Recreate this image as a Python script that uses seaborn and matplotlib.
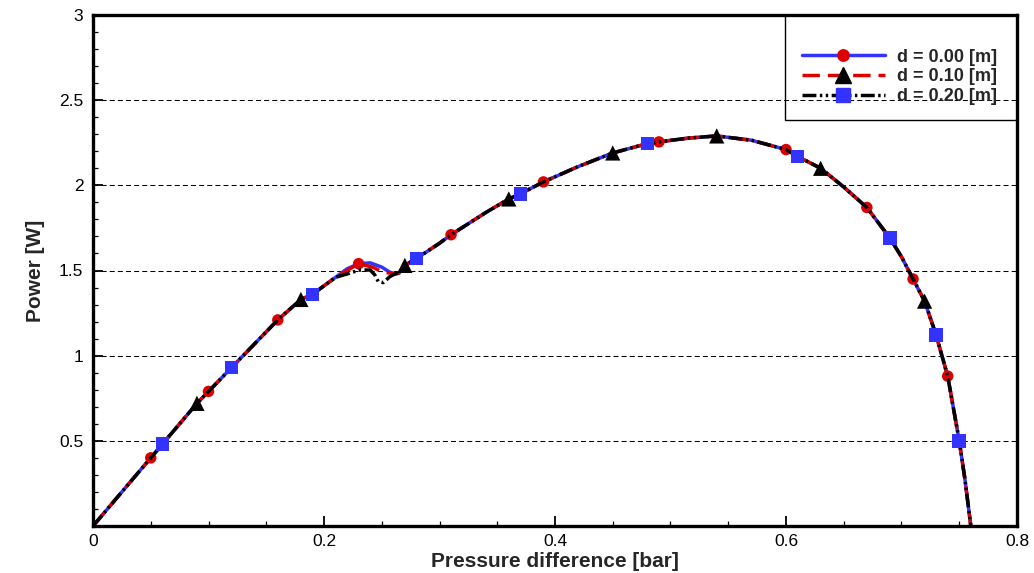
import matplotlib
matplotlib.use("Agg")
import numpy as np
import pandas as pd
import seaborn as sns
import matplotlib.pyplot as plt
from matplotlib.lines import Line2D
from matplotlib.patches import Rectangle
from matplotlib.ticker import MultipleLocator, FixedLocator, FuncFormatter

# ---------------- data ----------------
series_labels = ["d = 0.00 [m]", "d = 0.10 [m]", "d = 0.20 [m]"]

# shared rising branch (pressure difference [bar], power [W])
dp_rise = [0.0, 0.03, 0.05, 0.06, 0.09, 0.10, 0.12, 0.14, 0.16, 0.18, 0.19, 0.20, 0.21]
pw_rise = [0.0, 0.24, 0.40, 0.48, 0.72, 0.79, 0.93, 1.07, 1.21, 1.33, 1.36, 1.41, 1.46]

# local bump, different for each gap d
dp_bump_000 = [0.22, 0.23, 0.24, 0.25, 0.257, 0.262]
pw_bump_000 = [1.51, 1.54, 1.545, 1.52, 1.49, 1.48]
dp_bump_010 = [0.22, 0.23, 0.242, 0.251, 0.257, 0.262]
pw_bump_010 = [1.50, 1.54, 1.52, 1.49, 1.485, 1.48]
dp_bump_020 = [0.22, 0.231, 0.240, 0.244, 0.247, 0.2513, 0.257, 0.262]
pw_bump_020 = [1.48, 1.503, 1.503, 1.474, 1.435, 1.429, 1.464, 1.482]

# shared upper branch and fall-off
dp_tail = [0.265, 0.27, 0.28, 0.30, 0.31, 0.34, 0.36, 0.37, 0.39, 0.42, 0.45, 0.48,
           0.49, 0.515, 0.54, 0.57, 0.60, 0.61, 0.63, 0.65, 0.67, 0.69, 0.70, 0.71,
           0.72, 0.73, 0.74, 0.75, 0.755, 0.76]
pw_tail = [1.485, 1.53, 1.57, 1.66, 1.71, 1.84, 1.92, 1.95, 2.02, 2.11, 2.19, 2.245,
           2.255, 2.277, 2.29, 2.265, 2.21, 2.17, 2.10, 1.99, 1.87, 1.69, 1.58, 1.45,
           1.32, 1.12, 0.88, 0.50, 0.27, 0.0]

# symbol positions
mk_dp_000 = [0.05, 0.10, 0.16, 0.23, 0.31, 0.39, 0.49, 0.60, 0.67, 0.71, 0.74]
mk_pw_000 = [0.40, 0.79, 1.21, 1.54, 1.71, 2.02, 2.255, 2.21, 1.87, 1.45, 0.88]
mk_dp_010 = [0.09, 0.18, 0.27, 0.36, 0.45, 0.54, 0.63, 0.72]
mk_pw_010 = [0.72, 1.33, 1.53, 1.92, 2.19, 2.29, 2.10, 1.32]
mk_dp_020 = [0.06, 0.12, 0.19, 0.28, 0.37, 0.48, 0.61, 0.69, 0.73, 0.75]
mk_pw_020 = [0.48, 0.93, 1.36, 1.57, 1.95, 2.245, 2.17, 1.69, 1.12, 0.50]

x_ticks = [0.0, 0.2, 0.4, 0.6, 0.8]
y_ticks = [0.5, 1.0, 1.5, 2.0, 2.5, 3.0]

# ---------------- style ----------------
sns.set_theme(style="white")
plt.rcParams['font.family'] = ['Liberation Sans', 'DejaVu Sans']

fig = plt.figure(figsize=(10.34, 5.73), dpi=100)
ax = fig.add_axes([93 / 1034, 47 / 573, 924 / 1034, 511 / 573])

LW = 2.5
blue = '#3333ff'
red = '#dd0000'
black = '#000000'
ls_red = (0, (5.0, 2.3))
ls_black = (0, (4.0, 1.0, 0.7, 1.0, 0.7, 1.0))

specs = [
    dict(dp=dp_rise + dp_bump_000 + dp_tail, pw=pw_rise + pw_bump_000 + pw_tail,
         lc=blue, ls='-', mk='o', mc=red, s=68, ms=8.2,
         mdp=mk_dp_000, mpw=mk_pw_000),
    dict(dp=dp_rise + dp_bump_010 + dp_tail, pw=pw_rise + pw_bump_010 + pw_tail,
         lc=red, ls=ls_red, mk='^', mc=black, s=120, ms=11,
         mdp=mk_dp_010, mpw=mk_pw_010),
    dict(dp=dp_rise + dp_bump_020 + dp_tail, pw=pw_rise + pw_bump_020 + pw_tail,
         lc=black, ls=ls_black, mk='s', mc=blue, s=95, ms=9.7,
         mdp=mk_dp_020, mpw=mk_pw_020),
]

handles = []
for i, sp in enumerate(specs):
    df = pd.DataFrame({'dp': sp['dp'], 'pw': sp['pw']})
    sns.lineplot(data=df, x='dp', y='pw', sort=False, estimator=None, ax=ax,
                 color=sp['lc'], lw=LW, zorder=3 + 2 * i)
    ax.lines[-1].set_linestyle(sp['ls'])
    mdf = pd.DataFrame({'dp': sp['mdp'], 'pw': sp['mpw']})
    sns.scatterplot(data=mdf, x='dp', y='pw', ax=ax, marker=sp['mk'], s=sp['s'],
                    color=sp['mc'], edgecolor='none', linewidth=0, zorder=4 + 2 * i)
    handles.append(Line2D([], [], color=sp['lc'], lw=LW, linestyle=sp['ls'],
                          marker=sp['mk'], markersize=sp['ms'],
                          markerfacecolor=sp['mc'], markeredgecolor=sp['mc']))

# axes
ax.set_xlim(0, 0.8)
ax.set_ylim(0, 3)
ax.xaxis.set_major_locator(FixedLocator(x_ticks))
ax.xaxis.set_minor_locator(MultipleLocator(0.05))
ax.yaxis.set_major_locator(FixedLocator(y_ticks))
ax.yaxis.set_minor_locator(MultipleLocator(0.1))
fmt = FuncFormatter(lambda v, p: f"{v:g}")
ax.xaxis.set_major_formatter(fmt)
ax.yaxis.set_major_formatter(fmt)
ax.tick_params(which='major', direction='in', length=7, width=1.3, labelsize=12.5,
               color='black', labelcolor='black', bottom=True, left=True,
               top=False, right=False)
ax.tick_params(axis='x', which='major', pad=6)
ax.tick_params(axis='y', which='major', pad=7)
ax.tick_params(which='minor', direction='in', length=3.6, width=0.9, color='black',
               bottom=True, left=True, top=False, right=False)
for s in ax.spines.values():
    s.set_color('black')
    s.set_linewidth(2.4)

ax.yaxis.grid(True, which='major', color='black', linestyle=(0, (4.8, 3.0)), linewidth=0.75)
ax.xaxis.grid(False)
ax.set_axisbelow(True)

ax.set_xlabel('Pressure difference [bar]', fontsize=15, fontweight='bold', labelpad=2)
ax.set_ylabel('Power [W]', fontsize=15, fontweight='bold', labelpad=10)

# legend box
ax.add_patch(Rectangle((0.749, 0.795), 0.251, 0.205, transform=ax.transAxes,
                       fill=False, edgecolor='black', lw=1.0, clip_on=False, zorder=20))
leg = ax.legend(handles=handles, labels=series_labels, loc='center',
                bbox_to_anchor=(0.873, 0.879), frameon=False, handlelength=4.6,
                handletextpad=0.7, labelspacing=0.15, borderpad=0,
                prop={'size': 13, 'weight': 'bold'}, numpoints=1)
leg.set_zorder(21)

fig.savefig('out.png', dpi=100)
